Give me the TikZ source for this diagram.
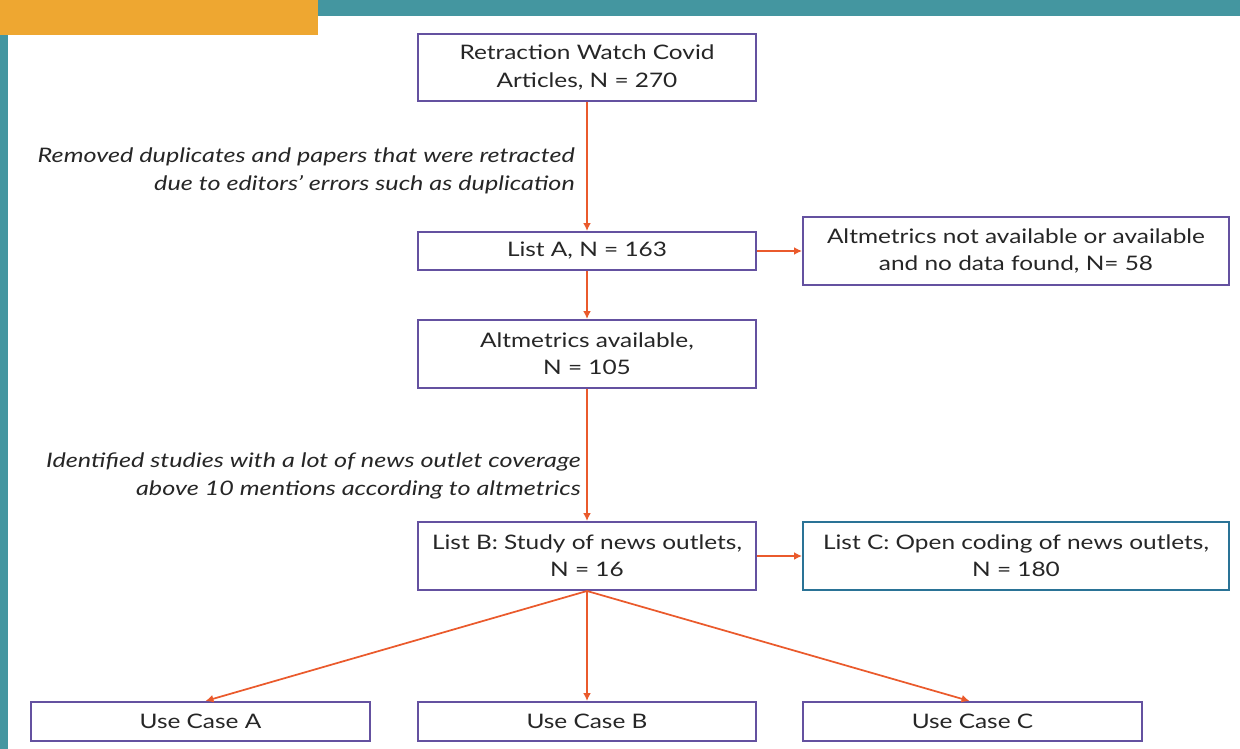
\documentclass[tikz,border=0pt]{standalone}
\usepackage{fontspec}
\setmainfont{Lato}[FakeStretch=1.22, ItalicFeatures={FakeStretch=1.26}]
\usetikzlibrary{arrows.meta}
\definecolor{tealbar}{HTML}{4496A0}
\definecolor{orangebar}{HTML}{EEA731}
\definecolor{boxpurple}{HTML}{6451A0}
\definecolor{boxteal}{HTML}{2A7396}
\definecolor{arrowred}{HTML}{EA5A2C}
\tikzset{
  flowbox/.style={draw=boxpurple, line width=1.5pt, fill=white, inner sep=0pt,
    align=center, font=\fontsize{15}{20.5}\selectfont, text=black!85},
  flowarrow/.style={draw=arrowred, line width=1.3pt, -{Latex[length=6pt,width=6pt]}},
  steplabel/.style={align=right, anchor=east, font=\fontsize{15}{20.5}\selectfont\itshape, text=black!85, inner sep=0pt}
}
\begin{document}
\begin{tikzpicture}[x=0.75pt, y=-0.75pt]
  \useasboundingbox (0,0) rectangle (1240,749);
  % page frame bars
  \fill[tealbar] (0,0) rectangle (1240,16);
  \fill[tealbar] (0,0) rectangle (8,749);
  \fill[orangebar] (0,0) rectangle (318,35);

  % boxes
  \node[flowbox, minimum width=338*0.75pt, minimum height=67*0.75pt] (rw) at (587,67.5)
    {Retraction Watch Covid\\Articles, N = 270};
  \node[flowbox, minimum width=338*0.75pt, minimum height=38*0.75pt] (la) at (587,251)
    {List A, N = 163};
  \node[flowbox, minimum width=426*0.75pt, minimum height=68*0.75pt] (na) at (1016,251)
    {Altmetrics not available or available\\and no data found, N= 58};
  \node[flowbox, minimum width=338*0.75pt, minimum height=68*0.75pt] (av) at (587,354)
    {Altmetrics available,\\N = 105};
  \node[flowbox, minimum width=338*0.75pt, minimum height=68*0.75pt] (lb) at (587,556)
    {List B: Study of news outlets,\\N = 16};
  \node[flowbox, draw=boxteal, minimum width=426*0.75pt, minimum height=68*0.75pt] (lc) at (1016,556)
    {List C: Open coding of news outlets,\\N = 180};
  \node[flowbox, minimum width=339*0.75pt, minimum height=39*0.75pt] (ua) at (200.5,721.5)
    {Use Case A};
  \node[flowbox, minimum width=338*0.75pt, minimum height=39*0.75pt] (ub) at (587,721.5)
    {Use Case B};
  \node[flowbox, minimum width=339*0.75pt, minimum height=39*0.75pt] (uc) at (972.5,721.5)
    {Use Case C};

  % connectors
  \draw[flowarrow] (rw.south) -- (la.north);
  \draw[flowarrow] (la.east) -- (na.west);
  \draw[flowarrow] (la.south) -- (av.north);
  \draw[flowarrow] (av.south) -- (lb.north);
  \draw[flowarrow] (lb.east) -- (lc.west);
  \draw[flowarrow] (lb.south) -- ([xshift=5*0.75pt]ua.north);
  \draw[flowarrow] (lb.south) -- (ub.north);
  \draw[flowarrow] (lb.south) -- ([xshift=-3*0.75pt]uc.north);

  % step labels
  \node[steplabel] (l1) at (575,171)
    {Removed duplicates and papers that were retracted\\due to editors' errors such as duplication};
  \node[steplabel] (l2) at (581,476)
    {Identified studies with a lot of news outlet coverage\\above 10 mentions according to altmetrics};
\end{tikzpicture}
\end{document}
